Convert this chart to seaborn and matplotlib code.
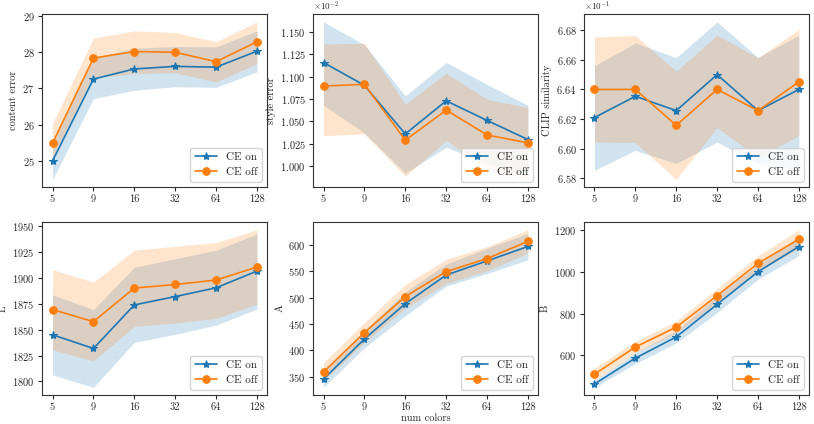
import numpy as np
import matplotlib
matplotlib.use("Agg")
import matplotlib.pyplot as plt
from matplotlib.ticker import MultipleLocator
import seaborn as sns

num_colors = ["5", "9", "16", "32", "64", "128"]

# content error
content_on = [25.0, 27.26, 27.54, 27.61, 27.59, 28.03]
content_on_lo = [24.49, 26.72, 26.95, 27.05, 27.03, 27.46]
content_on_hi = [25.5, 27.85, 28.11, 28.16, 28.15, 28.59]
content_off = [25.49, 27.84, 28.02, 28.0, 27.74, 28.29]
content_off_lo = [25.0, 27.3, 27.41, 27.43, 27.18, 27.69]
content_off_hi = [26.03, 28.39, 28.59, 28.55, 28.29, 28.84]

# style error
style_on = [0.011159, 0.010904, 0.010359, 0.010730, 0.010511, 0.010296]
style_on_lo = [0.01068, 0.01037, 0.00992, 0.01021, 0.01003, 0.00990]
style_on_hi = [0.011615, 0.01136, 0.010785, 0.01116, 0.010915, 0.01068]
style_off = [0.010896, 0.010915, 0.010289, 0.010626, 0.010348, 0.010259]
style_off_lo = [0.01034, 0.01036, 0.009885, 0.010285, 0.00997, 0.00985]
style_off_hi = [0.011367, 0.011374, 0.01069, 0.01104, 0.010748, 0.010655]

# CLIP similarity
clip_on = [0.6621, 0.66354, 0.66257, 0.6650, 0.66257, 0.6640]
clip_on_lo = [0.65854, 0.65989, 0.6590, 0.66045, 0.6590, 0.65854]
clip_on_hi = [0.6656, 0.66714, 0.66615, 0.66856, 0.66615, 0.66766]
clip_off = [0.6640, 0.6640, 0.66158, 0.6640, 0.66257, 0.66451]
clip_off_lo = [0.66045, 0.66041, 0.65793, 0.66142, 0.6594, 0.6609]
clip_off_hi = [0.66755, 0.66764, 0.66523, 0.66766, 0.66615, 0.66805]

# L
l_on = [1845.1, 1831.8, 1874.0, 1882.1, 1890.6, 1906.8]
l_on_lo = [1806.2, 1794.2, 1837.7, 1845.5, 1854.5, 1870.1]
l_on_hi = [1883.8, 1869.5, 1910.4, 1918.8, 1927.0, 1942.9]
l_off = [1869.5, 1857.8, 1890.3, 1893.8, 1898.1, 1910.7]
l_off_lo = [1830.5, 1819.8, 1853.2, 1856.5, 1861.0, 1874.7]
l_off_hi = [1908.1, 1896.1, 1927.0, 1930.8, 1934.4, 1946.8]

# A
a_on = [345.5, 421.6, 488.7, 543.1, 569.9, 597.4]
a_on_lo = [330, 405, 466, 522, 546, 572]
a_on_hi = [361, 438, 511, 564, 594, 622]
a_off = [359, 433.8, 502.2, 549.5, 574.4, 607]
a_off_lo = [343, 415, 480, 527, 551, 585]
a_off_hi = [377, 453, 525, 573, 597, 629]

# B
b_on = [462.9, 587, 688.7, 845.2, 1001.6, 1122.6]
b_on_lo = [447, 560, 660, 805, 966, 1079]
b_on_hi = [479, 614, 718, 885, 1037, 1166]
b_off = [509.7, 640.3, 735.5, 887.1, 1041.9, 1158.1]
b_off_lo = [481, 613, 707, 853, 1005, 1113]
b_off_hi = [539, 668, 765, 921, 1079, 1203]

sns.set_style("ticks")
plt.rcParams["font.family"] = ["cmr10", "DejaVu Serif"]
plt.rcParams["mathtext.fontset"] = "cm"
plt.rcParams["axes.formatter.use_mathtext"] = True
plt.rcParams["font.size"] = 7.5
plt.rcParams["axes.edgecolor"] = "#333333"
plt.rcParams["axes.linewidth"] = 0.8

panels = [
    ("content error", content_on, content_on_lo, content_on_hi, content_off, content_off_lo, content_off_hi, None),
    ("style error", style_on, style_on_lo, style_on_hi, style_off, style_off_lo, style_off_hi, 0.00025),
    ("CLIP similarity", clip_on, clip_on_lo, clip_on_hi, clip_off, clip_off_lo, clip_off_hi, 0.002),
    ("L", l_on, l_on_lo, l_on_hi, l_off, l_off_lo, l_off_hi, None),
    ("A", a_on, a_on_lo, a_on_hi, a_off, a_off_lo, a_off_hi, None),
    ("B", b_on, b_on_lo, b_on_hi, b_off, b_off_lo, b_off_hi, None),
]

blue = "#1f77b4"
orange = "#ff7f0e"
xpos = np.arange(len(num_colors))

fig, axes = plt.subplots(2, 3, figsize=(8.14, 4.24), dpi=100)
axes = axes.flatten()

for idx, (ylabel, on, on_lo, on_hi, off, off_lo, off_hi, step) in enumerate(panels):
    ax = axes[idx]
    ax.fill_between(xpos, on_lo, on_hi, color=blue, alpha=0.2, linewidth=0)
    ax.fill_between(xpos, off_lo, off_hi, color=orange, alpha=0.2, linewidth=0)
    sns.lineplot(x=xpos, y=on, ax=ax, color=blue, marker="*", markersize=6,
                 markeredgecolor=blue, linewidth=1.2, label="CE on")
    sns.lineplot(x=xpos, y=off, ax=ax, color=orange, marker="o", markersize=5.5,
                 markeredgecolor=orange, linewidth=1.2, label="CE off")
    ax.set_xticks(xpos)
    ax.set_xticklabels(num_colors)
    ax.set_ylabel(ylabel, labelpad=3)
    if step is not None:
        ax.yaxis.set_major_locator(MultipleLocator(step))
        ax.ticklabel_format(axis="y", style="sci", scilimits=(0, 0))
        ax.yaxis.get_offset_text().set_fontsize(6.5)
    ax.legend(loc="lower right", fontsize=8)
    ax.tick_params(labelsize=7.5, length=3, pad=2.5)

axes[4].set_xlabel("num colors", labelpad=1)

plt.subplots_adjust(left=0.052, right=0.994, top=0.967, bottom=0.068, wspace=0.205, hspace=0.2)
plt.savefig("out.png", dpi=100)
